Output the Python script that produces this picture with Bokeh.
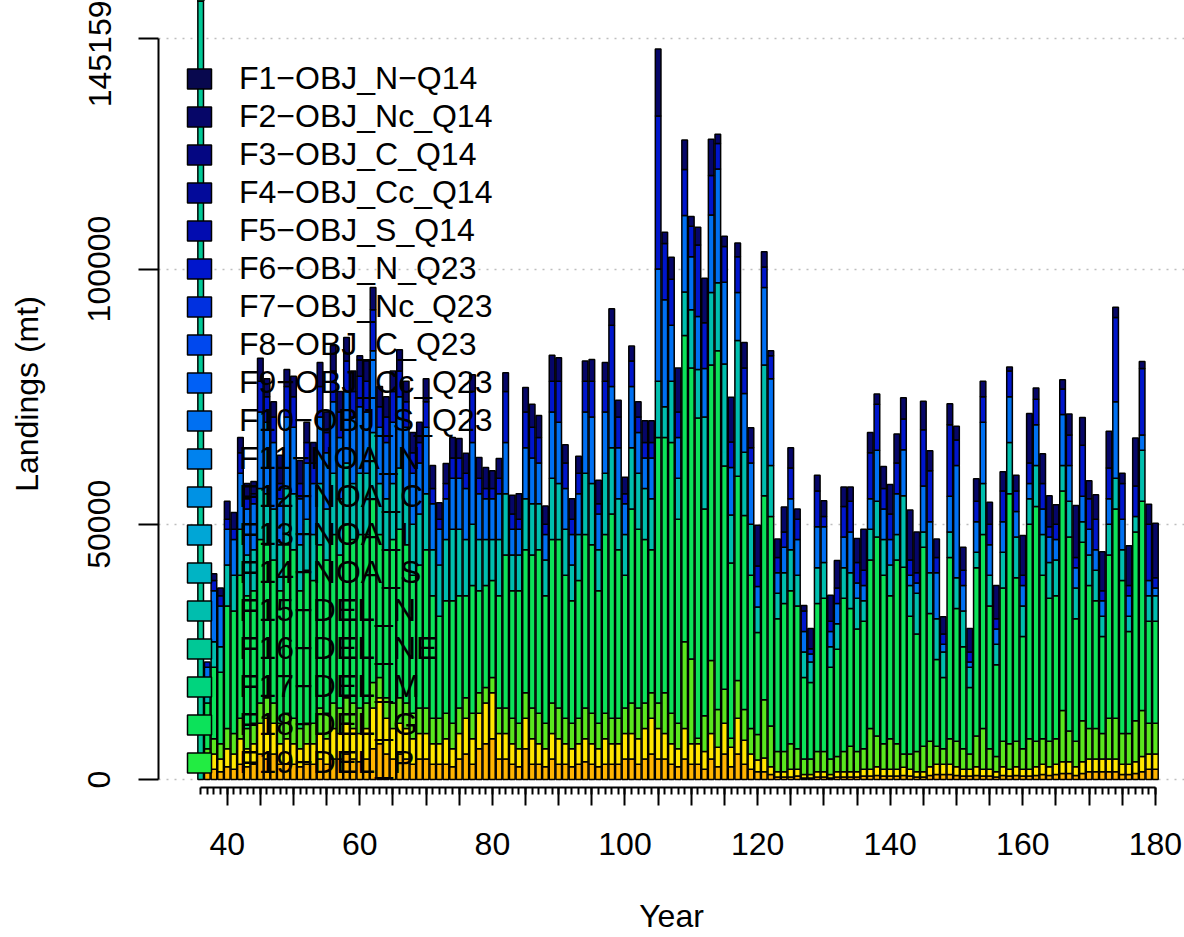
import math
import numpy as np
from bokeh.plotting import figure
from bokeh.models import (Range1d, FixedTicker, PrintfTickFormatter, CustomJSTickFormatter,
                          ColumnDataSource, Legend, LegendItem)
from bokeh.embed import file_html
from bokeh.resources import INLINE

FONT = "Liberation Sans"

# ---------------- data (landings, thousands of mt) ----------------
years = list(range(37, 181))

# bottom block: yellow + orange fleets (F22 + F24)
yel_org_F22_F24 = [
    4, 5, 4, 6, 5, 8, 6, 7,
    11, 12, 11, 7, 8, 7, 6, 7,
    7, 9, 8, 10, 9, 11, 10, 9,
    10, 14, 16, 12, 10, 11, 10, 8,
    9, 9, 7, 7, 8, 6, 9, 12,
    8, 13, 15, 17, 9, 9, 7, 6,
    12, 8, 7, 6, 9, 8, 7, 6,
    7, 8, 7, 6, 8, 7, 7, 9,
    9, 8, 10, 12, 10, 9, 7, 6,
    10, 7, 7, 5.5, 9, 6.3, 11, 6.3,
    12, 7.7, 5, 3.8, 4.2, 2.5, 1.5, 1.5,
    2, 2, 1, 1, 1.5, 1.5, 1, 1.5,
    1.5, 1.5, 1.5, 2, 2, 2.5, 2, 2,
    2, 2.4, 2, 1.5, 1.5, 2.5, 3, 3,
    3, 2.5, 2, 2, 2.5, 2, 2, 1.5,
    2.5, 2, 2.5, 2, 2, 2.5, 3, 2.5,
    3, 3.5, 3.5, 2.5, 3.5, 4, 4, 4,
    4, 4, 3, 3, 3.5, 4.5, 5, 5]

orange_F24 = [
    1.5, 2, 1.5, 2.5, 2, 3, 2.5, 3,
    5, 4, 5, 3, 3, 3, 2.5, 3,
    3, 4, 3, 4, 4, 5, 4, 3.5,
    4, 6, 7, 5, 4, 5, 4, 3,
    4, 4, 3, 3, 3, 2.5, 4, 5,
    3, 6, 7, 8, 4, 4, 3, 2.5,
    6, 3, 3, 2.5, 4, 3, 3, 2.5,
    3, 3.5, 3, 2.5, 3, 3, 3, 4,
    4, 3, 4, 5, 4, 4, 3, 2.5,
    4, 3, 3, 2, 4, 2.5, 5, 2.5,
    5, 3, 2, 1.5, 1.5, 1, 0.5, 0.5,
    0.5, 0.7, 0.3, 0.3, 0.5, 0.5, 0.3, 0.5,
    0.5, 0.5, 0.5, 0.7, 0.7, 0.8, 0.7, 0.7,
    0.7, 0.8, 0.7, 0.5, 0.5, 0.8, 1, 1,
    1, 0.8, 0.7, 0.7, 0.8, 0.7, 0.7, 0.5,
    0.8, 0.7, 0.8, 0.7, 0.7, 0.8, 1, 0.8,
    1, 1.2, 1.2, 0.8, 1.2, 1.5, 1.5, 1.5,
    1.5, 1.5, 1, 1, 1.2, 1.5, 2, 2]

lgreen_F20 = [
    2, 3, 3, 4, 4, 4, 4, 4,
    4, 4, 4, 4, 5, 5, 4, 4,
    4, 5, 5, 5, 5, 5, 5, 5,
    5, 5, 4, 4, 5, 5, 5, 5,
    5, 5, 5, 5, 5, 5, 5, 4,
    5, 4, 3, 3, 5, 5, 5, 5,
    5, 6, 6, 5, 6, 6, 5, 5,
    5, 6, 6, 5, 5, 5, 5, 5,
    6, 6, 5, 5, 5, 8, 6, 5,
    17, 16.6, 1.1, 7, 14.3, 7.4, 6.7, 1.8,
    7.4, 6, 5, 5, 11.4, 8, 4, 4,
    5, 4, 3, 3, 4, 4, 3, 3,
    4, 5, 4, 4, 8, 6, 5, 6,
    5, 2.6, 3, 4, 5, 5, 3.5, 3,
    5, 5, 4, 3, 6, 8, 4, 3,
    5, 5, 5, 4, 6, 5, 5, 5,
    5, 10, 6, 5, 8, 6, 6, 5,
    8, 8, 6, 6, 8, 9, 6, 6]

green_F18 = [
    9, 14, 14, 24, 24, 28, 26, 26,
    32, 30, 28, 26, 33, 33, 27, 30,
    28, 32, 30, 33, 30, 34, 32, 34,
    33, 36, 28, 29, 32, 33, 31, 27,
    28, 31, 24, 20, 22, 24, 22, 20,
    25, 20, 20, 19, 22, 30, 25, 26,
    28, 30, 32, 25, 32, 33, 28, 24,
    27, 34, 33, 26, 35, 40, 33, 26,
    38, 35, 32, 28, 52, 50, 53, 40,
    60, 57, 62.7, 40.5, 57.9, 70.3, 43.7, 34.3,
    40, 38, 30, 20, 40, 41, 26, 29,
    30, 28, 16, 15, 29, 30, 18, 21,
    30, 27, 24, 25, 33, 39, 33, 28,
    36, 36.6, 27, 23, 39, 25, 17, 14,
    35.5, 26, 20, 13, 33, 38, 28, 18,
    30, 49, 32, 22, 42, 46, 32, 28,
    28, 43, 38, 24, 35, 28, 25, 19,
    32, 41, 30, 20, 37, 41, 20, 20]

teal_F15 = [
    3, 5, 5, 8, 7, 9, 8, 8,
    10, 10, 10, 9, 11, 11, 9, 10,
    9, 12, 10, 12, 11, 12, 11, 12,
    12, 13, 10, 10, 11, 12, 11, 10,
    10, 11, 9, 10, 12, 14, 13, 11,
    12, 10, 9, 8, 11, 12, 7, 7,
    10, 10, 9, 7, 12, 11, 9, 7,
    9, 12, 12, 8, 12, 13, 10, 8,
    12, 11, 10, 10, 11, 6, 12, 8,
    8.5, 11.4, 9.5, 18, 14.2, 13.3, 20, 9.4,
    26.6, 12.4, 10, 5, 25.6, 10, 5, 6,
    8, 6, 5, 4, 7, 7, 4, 5,
    6, 7, 6, 4, 6, 7, 7, 6,
    5, 14, 6, 8, 3, 8, 8, 5,
    5, 6, 7, 4, 3, 10, 6, 4,
    7, 10, 8, 6, 5, 8, 8, 7,
    7, 5, 7, 6, 4, 6, 6, 4,
    6, 6, 6, 3, 3, 10, 5, 5]

lblue_F10 = [
    4, 10, 8, 7, 7, 11, 9, 9,
    15, 14, 13, 9, 14, 13, 9, 11,
    10, 13, 11, 14, 12, 14, 13, 13,
    12, 16, 11, 11, 12, 14, 12, 10,
    10, 13, 9, 7, 8, 10, 10, 10,
    16, 9, 8, 8, 9, 10, 5, 5,
    10, 9, 8, 5, 13, 12, 8, 6,
    8, 12, 13, 7, 12, 12, 10, 6,
    12, 8, 6, 8, 22, 21, 11, 8,
    15, 10.4, 10.4, 9.5, 15.2, 22.3, 16, 9.3,
    9.4, 11.5, 12, 4, 15.2, 17, 4, 5,
    10, 7, 4, 1.6, 8, 7, 3, 4,
    6, 8, 3, 3, 6, 10, 6, 5,
    8, 9, 2, 2, 9, 10, 9, 1.5,
    7, 22, 5, 1, 6, 12, 6, 3,
    6, 9, 5, 4, 3, 8, 5, 5,
    4, 10, 7, 4, 5, 5, 4, 3,
    5, 15, 6, 4, 0, 3, 3, 1.5]

blue_F6 = [
    1, 2, 2, 2, 2, 4, 2, 2,
    6, 5, 5, 3, 6, 6, 3, 4,
    4, 6, 4, 6, 5, 6, 5, 6,
    6, 8, 4, 5, 6, 5, 5, 4,
    4, 5, 3, 2, 3, 4, 4, 3,
    10, 3, 2, 2, 3, 10, 3, 2,
    7, 6, 5, 2, 6, 8, 5, 3,
    4, 6, 7, 2, 6, 12, 6, 2,
    5, 3, 3, 3, 30, 11, 9, 5,
    9, 6, 14, 9, 7.7, 5, 7, 5,
    7, 5, 3, 4, 4, 4.5, 3, 3,
    6, 4, 4, 1, 7, 2, 2, 3,
    6, 6, 4, 3, 9, 9, 4, 5,
    6, 6, 3, 2, 11, 10, 3, 2,
    14, 5, 3, 2, 4, 5, 4, 2,
    6, 5, 4, 2, 4, 5, 5, 2,
    3, 5, 6, 2, 10, 6, 6, 2,
    6, 16.5, 7, 2, 6, 13, 11, 2]

navy_F2 = [
    0, 1.3, 1.5, 3.5, 3.3, 3, 3, 2.4,
    4.5, 3.5, 3, 5.5, 3.3, 4, 4.5, 4,
    4, 4.7, 4, 5, 4, 4.6, 4, 4,
    4, 4.4, 4, 4, 4, 4.2, 4, 4,
    4, 4.5, 4.5, 3.2, 3.9, 4, 3.8, 3.9,
    3.3, 4.1, 4.1, 3.5, 3.9, 3.7, 3.7, 5,
    4.8, 4.5, 4.3, 3.6, 5.1, 4.6, 3.6, 4,
    3.3, 4, 4.3, 4.6, 3.7, 3.2, 3.3, 3.2,
    2.9, 3, 4.3, 4.3, 13.1, 2.2, 4.3, 8.6,
    5.8, 1.9, 3.5, 8.7, 7.1, 1.8, 2, 8.8,
    2.7, 5, 3.9, 8, 3, 1, 3.6, 4.9,
    4, 2, 1.1, 4, 3.1, 3.1, 5.1, 5.4,
    3.8, 2.8, 4.7, 8, 4, 2, 4.3, 5.8,
    5.7, 4.2, 9.8, 8, 5.6, 3.9, 3.6, 3.4,
    4.1, 2.7, 4.5, 4.6, 4.4, 3, 4.3, 6.5,
    3.8, 0.8, 3.1, 7.8, 9.7, 2.2, 5.8, 6.1,
    3.8, 1.8, 4.1, 10.2, 5.4, 3.5, 4.8, 7.6,
    7.2, 2, 2, 7.8, 9.4, 1.4, 3.9, 10.7]

# first year: a single fleet whose bar runs off the top of the axis;
# every other fleet is zero that year (stacked on top of it)
year_first = [36]
F16_first = [600.0]

y_ticks = [0, 50000, 100000, 145159]

fleet_names = [
    "F1\u2212OBJ_N\u2212Q14", "F2\u2212OBJ_Nc_Q14", "F3\u2212OBJ_C_Q14", "F4\u2212OBJ_Cc_Q14",
    "F5\u2212OBJ_S_Q14", "F6\u2212OBJ_N_Q23", "F7\u2212OBJ_Nc_Q23", "F8\u2212OBJ_C_Q23",
    "F9\u2212OBJ_Cc_Q23", "F10\u2212OBJ_S_Q23", "F11\u2212NOA_N", "F12\u2212NOA_C",
    "F13\u2212NOA_I", "F14\u2212NOA_S", "F15\u2212DEL_N", "F16\u2212DEL_NE",
    "F17\u2212DEL_M", "F18\u2212DEL_G", "F19\u2212DEL_P"]

# ---------------- styles ----------------
fleet_colors = [
    "#08084E", "#060668", "#040682", "#030A9A", "#020CB0", "#0016CC", "#0030E0",
    "#0048EE", "#0060F6", "#0070F2", "#0082EE", "#0092E4", "#00A6D6", "#00B4C4",
    "#00BEAE", "#00C896", "#00D47E", "#0CE25A", "#22EC42"]
col_F20 = "#5AE61E"
col_F22 = "#FFE600"
col_F24 = "#FFB400"

BAR_W = 0.85
LW = 1.5

W, H = 1184, 937
p = figure(width=W, height=H, output_backend="svg", toolbar_location=None,
           x_range=Range1d(29.64, 184.39), y_range=Range1d(-1567, 152604),
           min_border_left=158, min_border_right=0, min_border_top=0, min_border_bottom=150)
p.outline_line_color = None
p.background_fill_color = "white"
p.border_fill_color = "white"

p.xgrid.visible = False
p.ygrid.ticker = FixedTicker(ticks=y_ticks)
p.ygrid.grid_line_color = "#BEBEBE"
p.ygrid.grid_line_dash = "2 6"
p.ygrid.grid_line_width = 1.5

# ---------------- bars ----------------
yr = np.array(years, dtype=float)
orange = np.array(orange_F24) * 1000
yellow = (np.array(yel_org_F22_F24) - np.array(orange_F24)) * 1000
layers = [
    ("F24", orange, col_F24),
    ("F22", yellow, col_F22),
    ("F20", np.array(lgreen_F20) * 1000, col_F20),
    ("F18", np.array(green_F18) * 1000, fleet_colors[17]),
    ("F15", np.array(teal_F15) * 1000, fleet_colors[14]),
    ("F10", np.array(lblue_F10) * 1000, fleet_colors[9]),
    ("F6", np.array(blue_F6) * 1000, fleet_colors[5]),
    ("F2", np.array(navy_F2) * 1000, fleet_colors[1]),
]
renderers = {}
base = np.zeros(len(years))
for name, vals, col in layers:
    top = base + vals
    m = vals > 0
    src = ColumnDataSource(dict(x=yr[m], bottom=base[m], top=top[m]))
    r = p.vbar(x="x", bottom="bottom", top="top", width=BAR_W, source=src,
               fill_color=col, line_color="black", line_width=LW)
    renderers[name] = r
    base = top

first_top = [v * 1000 for v in F16_first]
src16 = ColumnDataSource(dict(x=year_first, bottom=[0], top=first_top))
renderers["F16"] = p.vbar(x="x", bottom="bottom", top="top", width=BAR_W, source=src16,
                          fill_color=fleet_colors[15], line_color="black", line_width=LW)

# ---------------- legend ----------------
items = []
for i, (nm, col) in enumerate(zip(fleet_names, fleet_colors)):
    key = "F%d" % (i + 1)
    if key in renderers:
        r = renderers[key]
    else:
        # zero landings in the first year, stacked on top of the first bar
        zsrc = ColumnDataSource(dict(x=year_first, bottom=first_top, top=first_top))
        r = p.vbar(x="x", bottom="bottom", top="top", width=BAR_W, source=zsrc,
                   fill_color=col, line_color="black", line_width=LW)
    items.append(LegendItem(label=nm, renderers=[r]))

legend = Legend(items=items, location=(26, 6), orientation="vertical",
                glyph_width=30, glyph_height=25, label_standoff=25, label_height=38,
                spacing=0, padding=0, margin=0,
                border_line_color=None, background_fill_alpha=0,
                label_text_font=FONT, label_text_font_size="32px", label_text_color="black")
p.add_layout(legend)

# ---------------- axes ----------------
ya = p.yaxis[0]
ya.ticker = FixedTicker(ticks=y_ticks)
ya.formatter = PrintfTickFormatter(format="%d")
ya.bounds = (0, 145159)
ya.major_tick_out = 20
ya.major_tick_in = 0
ya.minor_tick_out = 0
ya.minor_tick_in = 0
ya.major_label_orientation = "parallel"
ya.major_label_standoff = 28
ya.axis_label = "Landings (mt)"
ya.axis_label_standoff = 41

xa = p.xaxis[0]
xa.ticker = FixedTicker(ticks=list(range(40, 181, 5)), minor_ticks=list(range(36, 181)))
xa.formatter = CustomJSTickFormatter(code="return (Math.round(tick) % 20 == 0) ? String(Math.round(tick)) : '';")
xa.bounds = (36, 180)
xa.major_tick_out = 18
xa.major_tick_in = 0
xa.minor_tick_out = 7
xa.minor_tick_in = 0
xa.major_label_standoff = 27
xa.axis_label = "Year"
xa.axis_label_standoff = 40

for ax in (xa, ya):
    ax.axis_line_color = "black"
    ax.axis_line_width = 2
    ax.major_tick_line_color = "black"
    ax.major_tick_line_width = 2
    ax.minor_tick_line_color = "black"
    ax.minor_tick_line_width = 2
    ax.major_label_text_font = FONT
    ax.major_label_text_font_size = "32px"
    ax.major_label_text_color = "black"
    ax.axis_label_text_font = FONT
    ax.axis_label_text_font_size = "32px"
    ax.axis_label_text_font_style = "normal"
    ax.axis_label_text_color = "black"

open("out.html", "w").write(file_html(p, INLINE))
